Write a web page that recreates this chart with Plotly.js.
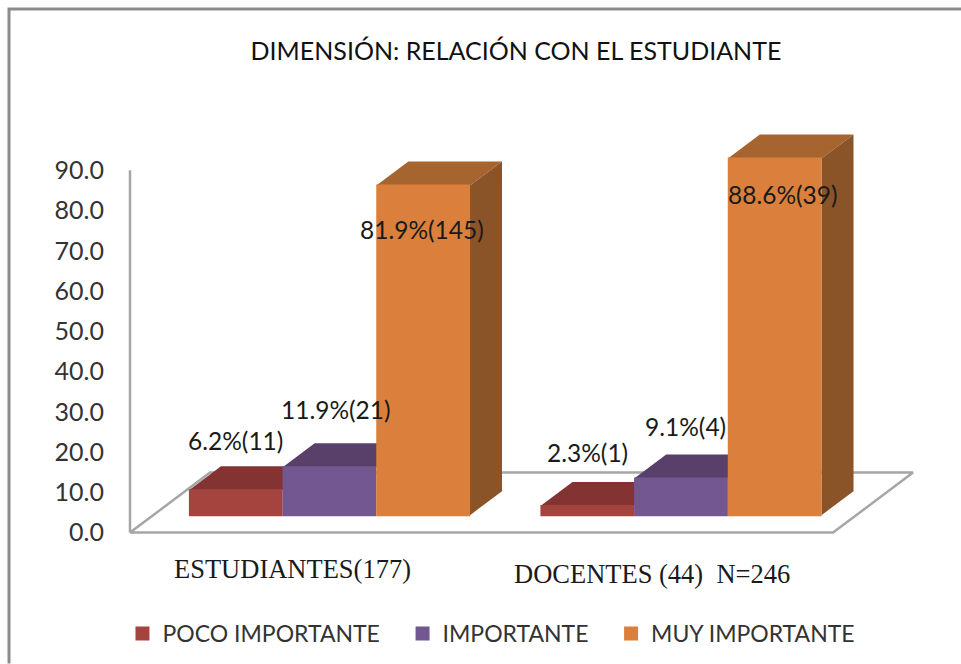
<!DOCTYPE html>
<html><head><meta charset="utf-8">
<script src="https://cdn.plot.ly/plotly-3.0.1.min.js"></script>
<style>html,body{margin:0;padding:0;background:#fff}#c{width:961px;height:664px}</style>
</head><body><div id="c"></div>
<script>
const categories = ["ESTUDIANTES(177)", "DOCENTES (44)\u00a0\u00a0N=246"];
const seriesNames = ["POCO IMPORTANTE\u00a0\u00a0\u00a0", "IMPORTANTE\u00a0\u00a0\u00a0", "MUY IMPORTANTE"];
const pocoImportante = [6.2, 2.3];
const importante = [11.9, 9.1];
const muyImportante = [81.9, 88.6];
const pocoCounts = [11, 1];
const importanteCounts = [21, 4];
const muyCounts = [145, 39];
const yTicks = [0, 10, 20, 30, 40, 50, 60, 70, 80, 90];
const frontColors = ["#A5443F", "#735790", "#DA803C"];
const topColors = ["#833331", "#58406B", "#A6642F"];
const sideColors = ["#6E2A28", "#4A3559", "#8A5428"];

const values = [pocoImportante, importante, muyImportante];
const counts = [pocoCounts, importanteCounts, muyCounts];

// Pseudo-3D projection in data units
const DX = 0.854, DY = 14.9, D0 = 0.291, D1 = 0.691, GROUP = 3.7525, GAP = 0.381;
const proj = (x, v, d) => [x + d * DX, v + d * DY];
const poly = pts => ({x: pts.map(p => p[0]), y: pts.map(p => p[1])});
const gray = "#A6A6A6";
const traces = [];

// floor and wall
const fl = poly([proj(0,0,0), proj(2*GROUP,0,0), proj(2*GROUP,0,1), proj(0,0,1), proj(0,0,0)]);
traces.push({type:"scatter", mode:"lines", x:fl.x, y:fl.y, line:{color:gray,width:2.5}, showlegend:false, hoverinfo:"skip"});
traces.push({type:"scatter", mode:"lines", x:[0,0], y:[0,90], line:{color:gray,width:2.5}, showlegend:false, hoverinfo:"skip"});

// top and side faces
categories.forEach((c, g) => {
  values.forEach((vals, i) => {
    const x = g * GROUP + GAP + i, v = vals[g];
    const top = poly([proj(x,v,D0), proj(x+1,v,D0), proj(x+1,v,D1), proj(x,v,D1), proj(x,v,D0)]);
    traces.push({type:"scatter", mode:"lines", x:top.x, y:top.y, fill:"toself", fillcolor:topColors[i], line:{width:0,color:topColors[i]}, showlegend:false, hoverinfo:"skip"});
    if (i === 2) {
      const s = poly([proj(x+1,0,D0), proj(x+1,0,D1), proj(x+1,v,D1), proj(x+1,v,D0), proj(x+1,0,D0)]);
      traces.push({type:"scatter", mode:"lines", x:s.x, y:s.y, fill:"toself", fillcolor:sideColors[i], line:{width:0,color:sideColors[i]}, showlegend:false, hoverinfo:"skip"});
    }
  });
});

// front faces: real bars on an overlay subplot
const base = D0 * DY;
values.forEach((vals, i) => {
  traces.push({type:"bar", name:seriesNames[i], xaxis:"x2", yaxis:"y2",
    x: categories.map((c, g) => g * GROUP + GAP + i + D0 * DX + 0.5),
    y: vals, base: vals.map(() => base), width: 0.98,
    marker:{color:frontColors[i], line:{width:2, color:frontColors[i]}}});
});

// label centres, in axis units
const labelX = [[1.13, 4.88], [2.20, 5.93], [3.12, 6.97]];
const labelY = [[22.8, 20.0], [30.5, 26.3], [75.2, 84.1]];
const annos = [];
values.forEach((vals, i) => vals.forEach((v, g) => annos.push({
  x: labelX[i][g], y: labelY[i][g], xref:"x", yref:"y", showarrow:false,
  text: v.toFixed(1) + "%(" + counts[i][g] + ")", xanchor:"center", yanchor:"middle",
  font:{family:"Lato", size:24.5, color:"#1a1a1a"}
})));
const catX = [1.74, 5.57], catY = [-8.93, -10.17];
categories.forEach((c, g) => annos.push({
  x: catX[g], y: catY[g], xref:"x", yref:"y", showarrow:false, text:c,
  xanchor:"center", yanchor:"middle",
  font:{family:"Liberation Serif", size:26.5, color:"#1a1a1a"}
}));

const xr = [-0.192, 8.54], yr = [-15, 100];
Plotly.newPlot("c", traces, {
  width:961, height:664, showlegend:true, autosize:false,
  margin:{l:112, r:31, t:130, b:70.55, pad:0, autoexpand:false},
  paper_bgcolor:"#fff", plot_bgcolor:"rgba(0,0,0,0)",
  title:{text:"DIMENSIÓN: RELACIÓN CON EL ESTUDIANTE", x:516/961, y:1-51/664, xref:"container", yref:"container",
    xanchor:"center", yanchor:"middle", font:{family:"Lato", size:25, color:"#111"}},
  xaxis:{range:xr, visible:false, fixedrange:true},
  yaxis:{range:yr, tickmode:"array", tickvals:yTicks, ticktext:yTicks.map(t=>t.toFixed(1)),
    showgrid:false, zeroline:false, showline:false, ticks:"", ticklabelstandoff:7,
    tickfont:{family:"Lato", size:25, color:"#333"}, fixedrange:true},
  xaxis2:{range:xr, overlaying:"x", visible:false, fixedrange:true},
  yaxis2:{range:yr, overlaying:"y", visible:false, fixedrange:true},
  barmode:"overlay",
  legend:{orientation:"h", x:0.0128, xanchor:"left", y:-0.0875, yanchor:"middle", itemwidth:30,
    font:{family:"Lato", size:23, color:"#333"}},
  shapes:[{type:"path", xref:"paper", yref:"paper",
    path:"M -0.1259,-0.1521 L -0.1259,1.2611 L 1.0379,1.2611",
    line:{color:"#8C8C8C", width:3}}],
  annotations:annos
}, {displayModeBar:false, staticPlot:true});
</script></body></html>
